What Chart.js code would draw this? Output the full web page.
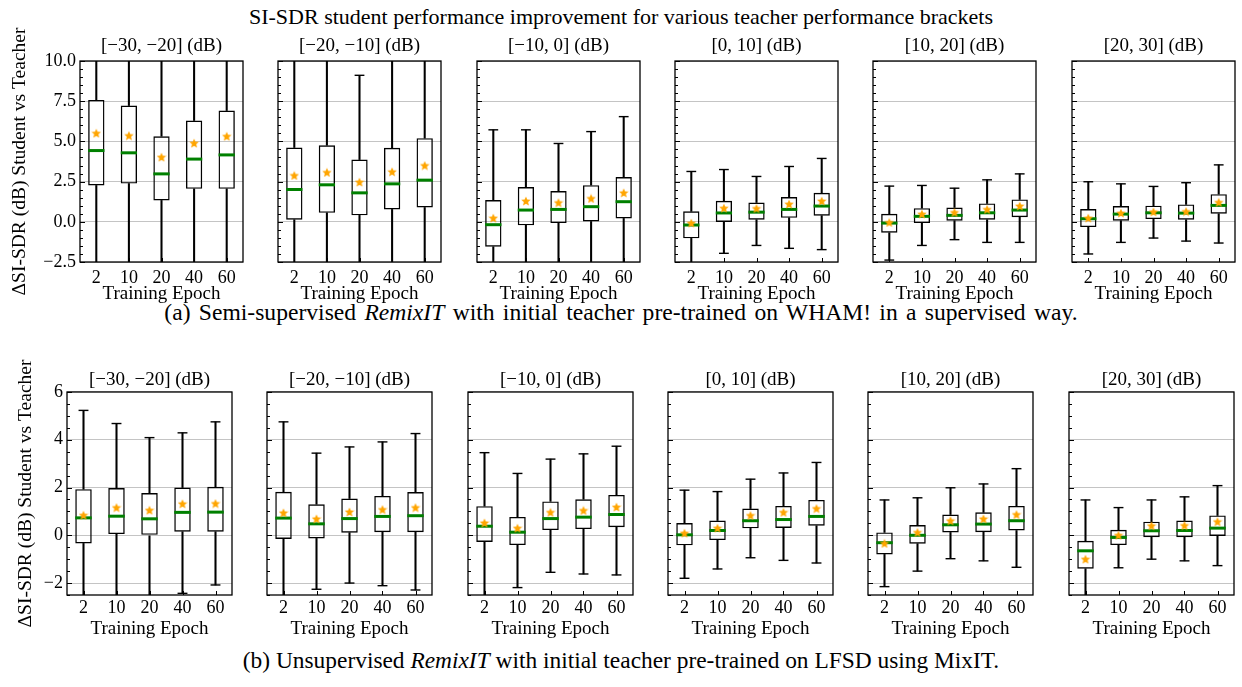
<!DOCTYPE html>
<html>
<head>
<meta charset="utf-8">
<script src="https://cdn.jsdelivr.net/npm/chart.js@4.4.1/dist/chart.umd.min.js"></script>
<style>
  html, body { margin: 0; padding: 0; background: #fff; }
  body { width: 1242px; height: 687px; position: relative; overflow: hidden;
         font-family: "Liberation Serif", "Times New Roman", serif; color: #000; }
  .txt { position: absolute; left: 0; width: 1242px; text-align: center; white-space: nowrap; }
  canvas { position: absolute; }
</style>
</head>
<body>
<div class="txt" style="top:3px;font-size:22px;line-height:28px;">SI-SDR student performance improvement for various teacher performance brackets</div>
<div class="txt" style="top:297px;font-size:23.6px;line-height:30px;word-spacing:2.4px;">(a) Semi-supervised <i>RemixIT</i> with initial teacher pre-trained on WHAM! in a supervised way.</div>
<div class="txt" style="top:645px;font-size:23.4px;line-height:30px;">(b) Unsupervised <i>RemixIT</i> with initial teacher pre-trained on LFSD using MixIT.</div>
<div id="host"></div>
<script>
// ---------------- data ----------------
const EPOCHS = ['2', '10', '20', '40', '60'];
const BRACKETS = ['[−30, −20] (dB)', '[−20, −10] (dB)', '[−10, 0] (dB)', '[0, 10] (dB)', '[10, 20] (dB)', '[20, 30] (dB)'];
const Y_TITLE = 'ΔSI-SDR (dB) Student vs Teacher';
const X_TITLE = 'Training Epoch';

// (a) semi-supervised: one row of 5 values (epochs) per teacher bracket
const semiMin = [
  [-5.6, -4.9, -4.6, -4.2, -4.3],
  [-6.6, -5.9, -4.8, -4.6, -4.5],
  [-5.6, -3.6, -2.9, -3.3, -3.2],
  [-2.9, -1.96, -1.47, -1.65, -1.73],
  [-2.38, -1.47, -1.11, -1.28, -1.28],
  [-2.00, -1.28, -1.01, -1.20, -1.32]
];
const semiQ1 = [
  [2.26, 2.38, 1.33, 2.05, 2.05],
  [0.13, 0.56, 0.40, 0.77, 0.89],
  [-1.55, -0.22, -0.08, 0.02, 0.21],
  [-1.03, -0.01, 0.13, 0.25, 0.38],
  [-0.68, -0.08, 0.07, 0.13, 0.29],
  [-0.33, 0.07, 0.17, 0.13, 0.50]
];
const semiMedian = [
  [4.43, 4.29, 2.98, 3.90, 4.16],
  [2.01, 2.30, 1.80, 2.36, 2.59],
  [-0.18, 0.73, 0.77, 0.94, 1.25],
  [-0.20, 0.55, 0.60, 0.77, 0.98],
  [-0.08, 0.34, 0.40, 0.56, 0.73],
  [0.19, 0.48, 0.56, 0.54, 1.02]
];
const semiQ3 = [
  [7.58, 7.23, 5.32, 6.30, 6.92],
  [4.62, 4.76, 3.87, 4.60, 5.20],
  [1.35, 2.16, 1.91, 2.28, 2.78],
  [0.65, 1.31, 1.20, 1.54, 1.80],
  [0.50, 0.85, 0.89, 1.14, 1.39],
  [0.79, 0.98, 1.00, 1.08, 1.72]
];
const semiMax = [
  [14.5, 14.0, 11.3, 12.6, 13.2],
  [11.4, 11.6, 9.11, 10.4, 11.0],
  [5.72, 5.72, 4.87, 5.61, 6.54],
  [3.13, 3.25, 2.82, 3.44, 3.94],
  [2.22, 2.26, 2.09, 2.61, 2.98],
  [2.49, 2.36, 2.20, 2.43, 3.54]
];
const semiMean = [
  [5.51, 5.36, 4.02, 4.89, 5.32],
  [2.88, 3.07, 2.47, 3.11, 3.50],
  [0.23, 1.29, 1.19, 1.45, 1.80],
  [-0.08, 0.85, 0.83, 1.10, 1.29],
  [-0.04, 0.48, 0.58, 0.77, 0.98],
  [0.23, 0.54, 0.62, 0.64, 1.21]
];

// (b) unsupervised
const unsupMin = [
  [-3.3, -3.0, -2.9, -2.43, -2.08],
  [-3.1, -2.26, -2.00, -2.11, -2.29],
  [-2.9, -2.19, -1.55, -1.62, -1.66],
  [-1.80, -1.41, -0.94, -1.05, -1.16],
  [-2.15, -1.50, -0.98, -1.07, -1.34],
  [-3.0, -1.36, -1.00, -1.07, -1.27]
];
const unsupQ1 = [
  [-0.34, 0.05, 0.00, 0.15, 0.15],
  [-0.15, -0.13, 0.11, 0.13, 0.13],
  [-0.28, -0.41, 0.22, 0.26, 0.34],
  [-0.42, -0.20, 0.29, 0.31, 0.40],
  [-0.80, -0.35, 0.12, 0.13, 0.20],
  [-1.40, -0.41, -0.08, -0.08, -0.03]
];
const unsupMedian = [
  [0.73, 0.80, 0.69, 0.96, 0.97],
  [0.72, 0.48, 0.70, 0.79, 0.82],
  [0.38, 0.13, 0.70, 0.76, 0.87],
  [0.02, 0.20, 0.61, 0.66, 0.79],
  [-0.31, 0.00, 0.44, 0.47, 0.61],
  [-0.65, -0.09, 0.19, 0.20, 0.30]
];
const unsupQ3 = [
  [1.93, 1.98, 1.77, 2.00, 2.03],
  [1.82, 1.30, 1.54, 1.65, 1.81],
  [1.22, 0.77, 1.42, 1.51, 1.69],
  [0.51, 0.62, 1.12, 1.23, 1.48],
  [0.12, 0.43, 0.87, 0.96, 1.23],
  [-0.23, 0.23, 0.57, 0.62, 0.83]
];
const unsupMax = [
  [5.23, 4.68, 4.09, 4.29, 4.75],
  [4.75, 3.44, 3.70, 3.91, 4.26],
  [3.46, 2.59, 3.19, 3.41, 3.73],
  [1.89, 1.83, 2.35, 2.61, 3.05],
  [1.48, 1.57, 1.99, 2.15, 2.79],
  [1.48, 1.16, 1.48, 1.61, 2.08]
];
const unsupMean = [
  [0.84, 1.16, 1.05, 1.32, 1.33],
  [0.94, 0.69, 0.98, 1.08, 1.16],
  [0.52, 0.30, 0.96, 1.04, 1.18],
  [0.09, 0.30, 0.83, 0.96, 1.12],
  [-0.34, 0.12, 0.61, 0.69, 0.87],
  [-1.00, 0.00, 0.40, 0.41, 0.57]
];

// ---------------- layout / style ----------------
const FONT = 'Liberation Serif';
Chart.defaults.font.family = FONT;
Chart.defaults.color = '#000';

const TITLE_SIZE = 19, XTITLE_SIZE = 19, YTITLE_SIZE = 19.5, TICK_SIZE = 18;
const EXTRA_TOP = 14; // canvas starts a bit higher so the long rotated y title is not cut

const ROWS = [
  { stats: { min: semiMin, q1: semiQ1, med: semiMedian, q3: semiQ3, max: semiMax, mean: semiMean },
    top: 28, plotTop: 61, plotBottom: 262, bottom: 307,
    lefts: [80, 278, 477, 675, 873, 1072], plotW: 165,
    yMin: -2.5, yMax: 10, major: 2.5, minor: 0.5, dec: 1,
    titlePadTop: 7, tickPad: 5, xTitlePadBottom: 1.2, yTitlePad: 7.8 },
  { stats: { min: unsupMin, q1: unsupQ1, med: unsupMedian, q3: unsupQ3, max: unsupMax, mean: unsupMean },
    top: 362, plotTop: 392, plotBottom: 595, bottom: 642,
    lefts: [67, 267, 468, 668, 868, 1069], plotW: 167,
    yMin: -2.5, yMax: 6, major: 2, minor: 0.5, dec: 0,
    titlePadTop: 6.6, tickPad: 2.5, xTitlePadBottom: 1.6, yTitlePad: 13.8 }
];

function makeStar(size, color) {
  const c = document.createElement('canvas');
  c.width = size; c.height = size;
  const g = c.getContext('2d');
  const cx = size / 2, cy = size / 2 + 0.4, R = size / 2, r = R * 0.45;
  g.beginPath();
  for (let k = 0; k < 10; k++) {
    const rad = (k % 2) ? r : R;
    const a = -Math.PI / 2 + k * Math.PI / 5;
    g.lineTo(cx + rad * Math.cos(a), cy + rad * Math.sin(a));
  }
  g.closePath();
  g.fillStyle = color;
  g.fill();
  return c;
}
const STAR = makeStar(10, '#ffa500');

const framePlugin = {
  id: 'frame',
  afterDraw(chart, args, opts) {
    const { ctx, chartArea: a, scales: { x, y } } = chart;
    ctx.save();
    ctx.strokeStyle = '#000';
    ctx.lineWidth = 1;
    const n = Math.round((y.max - y.min) / opts.minor);
    for (let k = 0; k <= n; k++) {
      const v = y.min + k * opts.minor;
      const q = v / opts.major;
      const isMajor = Math.abs(q - Math.round(q)) < 1e-6;
      const len = isMajor ? 5 : 3;
      const py = Math.round(y.getPixelForValue(v)) + 0.5;
      ctx.beginPath();
      ctx.moveTo(a.left, py); ctx.lineTo(a.left + len, py);
      ctx.stroke();
    }
    for (let k = 0; k < EPOCHS.length; k++) {
      const px = Math.round(x.getPixelForValue(k)) + 0.5;
      ctx.beginPath();
      ctx.moveTo(px, a.bottom); ctx.lineTo(px, a.bottom - 4);
      ctx.stroke();
    }
    ctx.lineWidth = 1.3;
    ctx.strokeRect(a.left, a.top, a.right - a.left, a.bottom - a.top);
    ctx.restore();
  }
};

function fmtTick(row) {
  return function (v) {
    const q = v / row.major;
    if (Math.abs(q - Math.round(q)) > 1e-6) return '';
    return v.toFixed(row.dec).replace('-', '−');
  };
}

const host = document.getElementById('host');
ROWS.forEach((row, ri) => {
  row.lefts.forEach((plotLeft, pi) => {
    const first = pi === 0;
    const canvasLeft = first ? 0 : plotLeft - 6;
    const canvasTop = row.top - EXTRA_TOP;
    const yAxisW = plotLeft - canvasLeft;
    const rightPad = 3;
    const W = yAxisW + row.plotW + rightPad;
    const H = row.bottom - canvasTop;
    const cv = document.createElement('canvas');
    cv.width = W; cv.height = H;
    cv.style.left = canvasLeft + 'px';
    cv.style.top = canvasTop + 'px';
    cv.style.width = W + 'px'; cv.style.height = H + 'px';
    host.appendChild(cv);

    const s = row.stats;
    const mins = s.min[pi], q1 = s.q1[pi], med = s.med[pi], q3 = s.q3[pi], maxs = s.max[pi], mean = s.mean[pi];
    const titleLH = TITLE_SIZE * 1.2;
    const padTop = row.titlePadTop + EXTRA_TOP;
    const titlePadBottom = row.plotTop - (canvasTop + padTop + titleLH);
    const catW = (c) => c.chart.scales.x.width / EPOCHS.length;

    new Chart(cv, {
      type: 'bar',
      data: {
        labels: EPOCHS,
        datasets: [
          { type: 'line', data: mean, showLine: false, pointStyle: STAR, pointRadius: 5,
            pointBorderWidth: 0, clip: 0 },
          { type: 'line', data: med, showLine: false, pointStyle: 'line',
            pointRadius: (c) => catW(c) * 0.25, pointBorderColor: '#008000', pointBorderWidth: 3, clip: 0 },
          { type: 'line', data: maxs, showLine: false, pointStyle: 'line',
            pointRadius: (c) => catW(c) * 0.15, pointBorderColor: '#000', pointBorderWidth: 1.4, clip: 0 },
          { type: 'line', data: mins, showLine: false, pointStyle: 'line',
            pointRadius: (c) => catW(c) * 0.15, pointBorderColor: '#000', pointBorderWidth: 1.4, clip: 0 },
          { type: 'bar', data: q1.map((v, k) => [v, q3[k]]), backgroundColor: 'rgba(0,0,0,0)',
            borderColor: '#000', borderWidth: 1.4, borderSkipped: false,
            barPercentage: 0.5, categoryPercentage: 1, grouped: false, clip: 0 },
          { type: 'bar', data: q3.map((v, k) => [v, maxs[k]]), backgroundColor: '#000',
            barThickness: 1.4, grouped: false, clip: 0 },
          { type: 'bar', data: mins.map((v, k) => [v, q1[k]]), backgroundColor: '#000',
            barThickness: 1.4, grouped: false, clip: 0 }
        ]
      },
      options: {
        responsive: false, animation: false, events: [],
        layout: { padding: { left: 0, right: rightPad, top: 0, bottom: 0 } },
        plugins: {
          legend: { display: false }, tooltip: { enabled: false },
          title: { display: true, fullSize: false, text: BRACKETS[pi], color: '#000',
                   font: { family: FONT, size: TITLE_SIZE, weight: 'normal' },
                   padding: { top: padTop, bottom: titlePadBottom } },
          frame: { major: row.major, minor: row.minor }
        },
        scales: {
          x: {
            type: 'category', offset: true,
            grid: { display: false, drawTicks: false }, border: { display: false },
            ticks: { color: '#000', font: { family: FONT, size: TICK_SIZE }, padding: row.tickPad,
                     maxRotation: 0, autoSkip: false },
            title: { display: true, text: X_TITLE, color: '#000',
                     font: { family: FONT, size: XTITLE_SIZE }, padding: { top: 0, bottom: row.xTitlePadBottom } },
            afterFit(sc) { sc.height = row.bottom - row.plotBottom; }
          },
          y: {
            min: row.yMin, max: row.yMax,
            grid: { color: '#c4c4c4', lineWidth: 1, drawTicks: false }, border: { display: false },
            ticks: { display: first, stepSize: row.major, includeBounds: false, color: '#000',
                     font: { family: FONT, size: TICK_SIZE }, padding: 4, callback: fmtTick(row) },
            title: { display: first, text: Y_TITLE, color: '#000',
                     font: { family: FONT, size: YTITLE_SIZE }, padding: { top: row.yTitlePad, bottom: 0 } },
            afterFit(sc) { sc.width = yAxisW; }
          }
        }
      },
      plugins: [framePlugin]
    });
  });
});
</script>
</body>
</html>
